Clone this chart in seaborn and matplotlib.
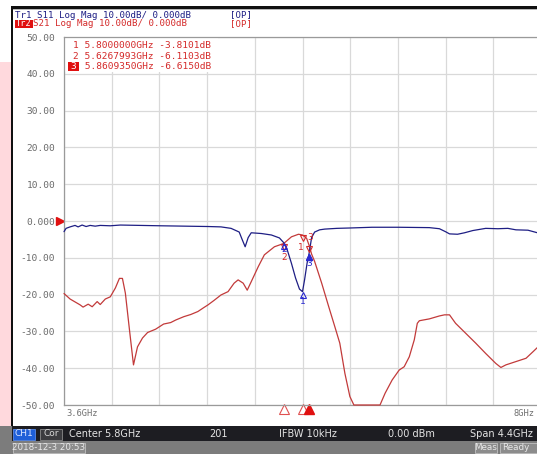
import numpy as np
import pandas as pd
import matplotlib
matplotlib.use("Agg")
import matplotlib.pyplot as plt
import seaborn as sns
from matplotlib.patches import Rectangle
from matplotlib.transforms import offset_copy

W, H = 537, 454

# S11 (Tr1) trace
S11_FREQ = [3.600, 3.619, 3.656, 3.702, 3.730, 3.767, 3.804, 3.841, 3.888, 3.934,
            4.027, 4.120, 4.306, 4.492, 4.928, 5.048, 5.141, 5.216, 5.243, 5.271,
            5.299, 5.327, 5.420, 5.513, 5.587, 5.627, 5.661, 5.698, 5.736, 5.772,
            5.800, 5.819, 5.842, 5.861, 5.884, 5.912, 5.958, 6.005, 6.116, 6.237,
            6.441, 6.683, 6.970, 7.063, 7.119, 7.156, 7.230, 7.295, 7.370, 7.490,
            7.602, 7.694, 7.769, 7.880, 7.992, 8.000]
S11_DB = [-2.9, -2.0, -1.6, -1.2, -1.6, -1.1, -1.5, -1.2, -1.4, -1.2,
          -1.3, -1.1, -1.2, -1.3, -1.5, -1.6, -2.0, -3.0, -5.0, -7.0,
          -4.5, -3.2, -3.4, -3.8, -4.6, -5.9, -8.0, -11.5, -15.5, -18.5,
          -19.2, -16.0, -11.5, -8.8, -4.5, -3.0, -2.4, -2.2, -2.0, -1.9,
          -1.7, -1.7, -1.8, -2.1, -2.9, -3.5, -3.6, -3.2, -2.6, -2.0,
          -2.1, -2.0, -2.4, -2.5, -3.4, -3.5]

# S21 (Tr2) trace
S21_FREQ = [3.600, 3.656, 3.749, 3.776, 3.823, 3.860, 3.906, 3.934, 3.981, 4.027,
            4.074, 4.111, 4.139, 4.166, 4.204, 4.241, 4.278, 4.324, 4.371, 4.445,
            4.519, 4.584, 4.631, 4.705, 4.770, 4.835, 4.891, 4.928, 4.983, 5.048,
            5.113, 5.169, 5.206, 5.253, 5.290, 5.327, 5.392, 5.448, 5.541, 5.627,
            5.698, 5.763, 5.800, 5.838, 5.861, 5.884, 5.912, 5.977, 6.042, 6.098,
            6.144, 6.191, 6.237, 6.274, 6.515, 6.562, 6.627, 6.692, 6.738, 6.785,
            6.831, 6.859, 6.878, 6.970, 7.063, 7.110, 7.156, 7.212, 7.305, 7.398,
            7.490, 7.583, 7.630, 7.676, 7.769, 7.862, 7.927, 7.973, 8.000]
S21_DB = [-19.7, -21.2, -22.8, -23.4, -22.6, -23.3, -21.9, -22.7, -21.2, -20.6,
          -18.2, -15.6, -15.6, -19.6, -29.6, -39.1, -34.2, -31.8, -30.3, -29.4,
          -28.0, -27.6, -26.9, -26.0, -25.4, -24.6, -23.5, -22.8, -21.6, -20.1,
          -19.2, -16.9, -16.0, -16.9, -18.8, -16.5, -12.4, -9.2, -7.0, -6.11,
          -4.3, -3.6, -3.81, -4.7, -6.62, -9.0, -11.0, -16.9, -23.3, -28.7,
          -33.2, -41.4, -47.7, -50.0, -50.0, -46.8, -43.2, -40.5, -39.6, -36.9,
          -32.3, -27.8, -27.1, -26.6, -25.8, -25.5, -25.5, -27.8, -30.5, -33.2,
          -36.0, -38.7, -39.8, -39.1, -38.2, -37.3, -35.5, -34.2, -34.0]

MARKER_FREQ = [5.8000000, 5.6267993, 5.8609350]
MARKER_S21 = [-3.8101, -6.1103, -6.6150]
MARKER_S11 = [-19.2, -5.9, -8.8]
MARKER_ROWS = ["1 5.8000000GHz -3.8101dB",
               "2 5.6267993GHz -6.1103dB",
               " 5.8609350GHz -6.6150dB"]

Y_TICKS = [50, 40, 30, 20, 10, 0, -10, -20, -30, -40, -50]
Y_LABELS = ["50.00", "40.00", "30.00", "20.00", "10.00", "0.000",
            "-10.00", "-20.00", "-30.00", "-40.00", "-50.00"]
X_START, X_STOP = 3.6, 8.0

BLUE = "#1e1e84"
RED = "#c23a3a"
MRED = "#d42a2a"
MONO = "DejaVu Sans Mono"

sns.set_style("white")
plt.rcParams["font.family"] = ["DejaVu Sans"]

fig = plt.figure(figsize=(W / 100, H / 100), dpi=100)
fig.patch.set_facecolor("white")


def fx(x):
    return x / W


def fy(y):
    return 1 - y / H


def box(x0, y0, x1, y1, fc, ec="none", lw=0.6, z=0):
    fig.add_artist(Rectangle((fx(x0), fy(y1)), (x1 - x0) / W, (y1 - y0) / H,
                             transform=fig.transFigure, facecolor=fc,
                             edgecolor=ec, lw=lw, zorder=z))


def txt(x, y, s, color, size=7, ha="left", family=MONO, **kw):
    fig.text(fx(x), fy(y), s, color=color, fontsize=size, ha=ha, va="center",
             family=family, **kw)


# frame of the instrument screen
box(0, 62, 11, 428, "#ffd9dd")
box(11, 6, 13, 428, "#101010")
box(11, 6, 537, 9, "#101010")
box(13, 9, 537, 10, "#b8b8b8")
box(0, 426, 537, 441, "#1d1d22")
box(0, 426, 12, 441, "#7c7c7c")
box(0, 441, 537, 454, "#7c7c7c")

# channel header
txt(15, 15, "Tr1 S11 Log Mag 10.00dB/ 0.000dB", BLUE, size=6.6)
txt(230, 15, "[OP]", BLUE, size=6.6)
box(15, 20.5, 33, 27.5, "#e01010")
txt(15.5, 24, "Tr2", "white", size=6.2)
txt(33, 24, "S21 Log Mag 10.00dB/ 0.000dB", MRED, size=6.6)
txt(230, 24, "[OP]", MRED, size=6.6)

# plot area
ax = fig.add_axes([fx(64), fy(405), (541 - 64) / W, 368 / H])
df11 = pd.DataFrame({"freq": S11_FREQ, "db": S11_DB})
df21 = pd.DataFrame({"freq": S21_FREQ, "db": S21_DB})
sns.lineplot(data=df21, x="freq", y="db", color=RED, lw=0.9, ax=ax,
             zorder=3, clip_on=False)
sns.lineplot(data=df11, x="freq", y="db", color=BLUE, lw=0.9, ax=ax,
             zorder=4, clip_on=False)

ax.set_xlim(X_START, X_STOP)
ax.set_ylim(-50, 50)
ax.set_xticks(np.linspace(X_START, X_STOP, 11))
ax.set_xticklabels([])
ax.set_yticks(Y_TICKS)
ax.set_yticklabels(Y_LABELS, family=MONO, fontsize=6.8, color="#6a6a6a")
ax.tick_params(length=0, pad=6.3)
ax.set_xlabel("")
ax.set_ylabel("")
ax.grid(True, color="#d9d9d9", lw=0.9)
for sp in ax.spines.values():
    sp.set_color("#9a9a9a")
    sp.set_linewidth(0.9)

# marker table area hides the grid
ax.add_patch(Rectangle((X_START, 40.4), 1.42, 9.6, facecolor="white",
                       edgecolor="none", zorder=1))
for i, row in enumerate(MARKER_ROWS):
    yy = 46 + i * 10.3
    if i == 2:
        box(68, yy - 4.5, 79, yy + 4.5, "#e01010", z=5)
        txt(73.5, yy, "3", "white", size=6.8, ha="center", zorder=6)
        txt(79, yy, row, MRED, size=6.8)
    else:
        txt(73, yy, row, MRED, size=6.8)

# reference level arrow
ax.plot([-0.009], [0], marker=">", ms=6, color="#e01010", ls="none",
        transform=ax.get_yaxis_transform(), clip_on=False)

# markers on traces
down = offset_copy(ax.transData, fig=fig, y=-2.5, units="points")
ax.plot(MARKER_FREQ, MARKER_S21, ls="none", marker="v", ms=5, mfc="none",
        mec=MRED, mew=0.8, transform=down, zorder=6)
ax.plot(MARKER_FREQ, MARKER_S11, ls="none", marker="^", ms=5, mfc="none",
        mec="#2a2ad0", mew=0.8, transform=down, zorder=6)
ax.plot(MARKER_FREQ[2:], MARKER_S11[2:], ls="none", marker="^", ms=4,
        color="#2a2ad0", transform=down, zorder=6)
red_off = [(-1, -12), (0, -14), (1, 8)]
blue_off = [(0, -10), (0, -7), (0, -10)]
for i, f in enumerate(MARKER_FREQ):
    ax.annotate(str(i + 1), (f, MARKER_S21[i]), xytext=(red_off[i][0], red_off[i][1] * 0.72),
                textcoords="offset points", ha="center", va="center",
                color=MRED, fontsize=6.5, zorder=7)
    ax.annotate(str(i + 1), (f, MARKER_S11[i]), xytext=(blue_off[i][0], blue_off[i][1] * 0.72),
                textcoords="offset points", ha="center", va="center",
                color="#2a2ad0", fontsize=6.5, zorder=7)

# marker positions along the stimulus axis
ax.plot(MARKER_FREQ[:2], [-0.012] * 2, ls="none", marker="^", ms=6.5,
        mfc="none", mec="#e05050", mew=0.8, transform=ax.get_xaxis_transform(),
        clip_on=False)
ax.plot(MARKER_FREQ[2:], [-0.012], ls="none", marker="^", ms=6.5,
        color="#e01010", transform=ax.get_xaxis_transform(), clip_on=False)

txt(66, 414, "3.6GHz", "#707070", size=6.3)
txt(535, 414, "8GHz", "#707070", size=6.3, ha="right")

# status bar
box(13, 428.5, 35, 439.5, "#1f5fd8", ec="#5a8ae8")
txt(24, 434, "CH1", "#dce6ff", size=6.5, ha="center", family="DejaVu Sans")
box(40, 428.5, 62, 439.5, "#3b3b3f", ec="#8a8a8a")
txt(51, 434, "Cor", "#d8d8d8", size=6.5, ha="center", family="DejaVu Sans")
for x, s, ha in [(69, "Center 5.8GHz", "left"), (218, "201", "center"),
                 (308, "IFBW 10kHz", "center"), (411, "0.00 dBm", "center"),
                 (470, "Span 4.4GHz", "left")]:
    txt(x, 434, s, "#e4e4e4", size=7, ha=ha, family="DejaVu Sans")

box(13, 443, 85, 453, "#8c8c8c", ec="#c0c0c0")
txt(49, 448, "2018-12-3 20:53", "#e8e8e8", size=6.3, ha="center", family="DejaVu Sans")
box(475, 443, 497, 453, "#8c8c8c", ec="#c0c0c0")
txt(486, 448, "Meas", "#e8e8e8", size=6.3, ha="center", family="DejaVu Sans")
box(500, 443, 540, 453, "#8c8c8c", ec="#c0c0c0")
txt(502, 448, "Ready", "#e8e8e8", size=6.3, family="DejaVu Sans")

fig.savefig("out.png", dpi=100)
